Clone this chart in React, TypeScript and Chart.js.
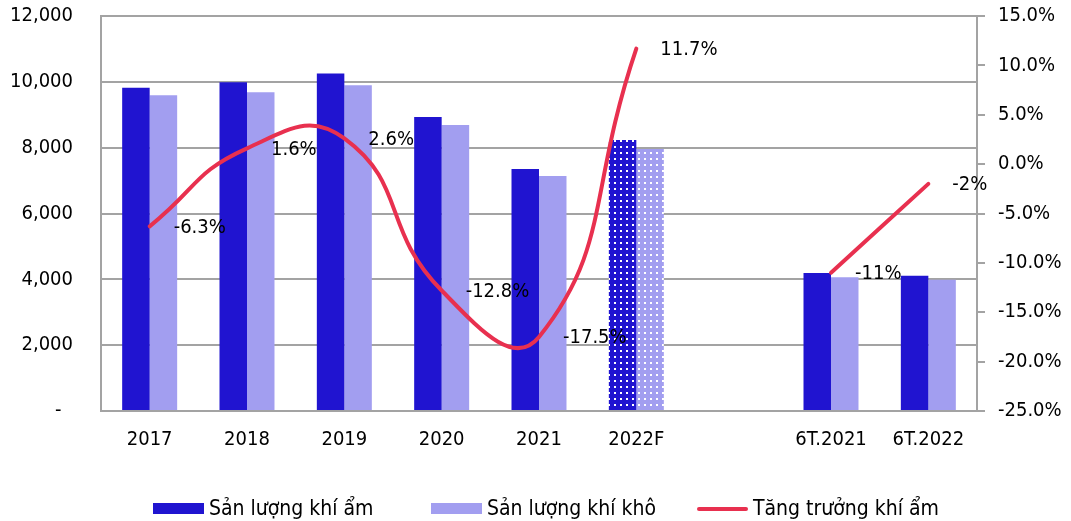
import React, { useEffect, useRef } from 'react';
import { Chart, registerables } from 'chart.js';

Chart.register(...registerables);

const categories = ['2017', '2018', '2019', '2020', '2021', '2022F', '', '6T.2021', '6T.2022'];
const wetGas = [9820, 9990, 10250, 8930, 7350, 8230, null, 4190, 4110];
const dryGas = [9590, 9680, 9900, 8690, 7140, 7960, null, 4060, 3990];
const wetGrowth = [-6.3, 1.6, 2.6, -12.8, -17.5, 11.7, null, -11, -2];
const growthLabels = ['-6.3%', '1.6%', '2.6%', '-12.8%', '-17.5%', '11.7%', '', '-11%', '-2%'];
const forecastFlags = [false, false, false, false, false, true, false, false, false];
const seriesNames = ['Sản lượng khí ẩm', 'Sản lượng khí khô', 'Tăng trưởng khí ẩm'];

const DARK = '#2014D0';
const LIGHT = '#A29EF0';
const RED = '#E8304F';
const GRID = '#a3a3a3';
const FONT = '"DejaVu Sans Condensed", "DejaVu Sans", sans-serif';

function makeDots(base: string): CanvasPattern | string {
  const c = document.createElement('canvas');
  c.width = 6;
  c.height = 6;
  const x = c.getContext('2d');
  if (!x) return base;
  x.fillStyle = base;
  x.fillRect(0, 0, 6, 6);
  x.fillStyle = '#ffffff';
  x.fillRect(2, 2, 2, 2);
  return x.createPattern(c, 'repeat') || base;
}

const labelPlugin = {
  id: 'growthLabels',
  afterDatasetsDraw(chart: any) {
    const meta = chart.getDatasetMeta(2);
    const ctx = chart.ctx;
    ctx.save();
    ctx.font = `20px ${FONT}`;
    ctx.fillStyle = '#000';
    ctx.textAlign = 'left';
    ctx.textBaseline = 'middle';
    meta.data.forEach((pt: any, i: number) => {
      if (wetGrowth[i] === null || !growthLabels[i]) return;
      ctx.fillText(growthLabels[i], pt.x + 24, pt.y + 1);
    });
    ctx.restore();
  },
};

const legendPlugin = {
  id: 'customLegend',
  afterDraw(chart: any) {
    const ctx = chart.ctx;
    const cy = 509;
    const starts = [153, 431, 697];
    ctx.save();
    ctx.font = `21px ${FONT}`;
    ctx.textBaseline = 'middle';
    ctx.textAlign = 'left';
    starts.forEach((sx, i) => {
      if (i < 2) {
        ctx.fillStyle = i === 0 ? DARK : LIGHT;
        ctx.fillRect(sx, cy - 6, 51, 11);
      } else {
        ctx.strokeStyle = RED;
        ctx.lineWidth = 4;
        ctx.lineCap = 'round';
        ctx.beginPath();
        ctx.moveTo(sx + 2, cy);
        ctx.lineTo(sx + 49, cy);
        ctx.stroke();
      }
      ctx.fillStyle = '#000';
      ctx.fillText(seriesNames[i], sx + 56, cy + 1);
    });
    ctx.restore();
  },
};

export default function App() {
  const ref = useRef<HTMLCanvasElement | null>(null);

  useEffect(() => {
    if (!ref.current) return;
    const darkDots = makeDots(DARK);
    const lightDots = makeDots(LIGHT);
    const darkColors = forecastFlags.map((f) => (f ? darkDots : DARK));
    const lightColors = forecastFlags.map((f) => (f ? lightDots : LIGHT));

    const chart = new Chart(ref.current, {
      type: 'bar',
      data: {
        labels: categories,
        datasets: [
          {
            type: 'bar',
            label: seriesNames[0],
            data: wetGas as any,
            backgroundColor: darkColors as any,
            yAxisID: 'y',
            barPercentage: 1,
            categoryPercentage: 0.565,
            order: 1,
          },
          {
            type: 'bar',
            label: seriesNames[1],
            data: dryGas as any,
            backgroundColor: lightColors as any,
            yAxisID: 'y',
            barPercentage: 1,
            categoryPercentage: 0.565,
            order: 2,
          },
          {
            type: 'line',
            label: seriesNames[2],
            data: wetGrowth as any,
            borderColor: RED,
            backgroundColor: RED,
            borderWidth: 4,
            borderCapStyle: 'round',
            borderJoinStyle: 'round',
            pointRadius: 0,
            pointHoverRadius: 0,
            tension: 0.5,
            spanGaps: false,
            yAxisID: 'y1',
            order: 0,
          } as any,
        ],
      },
      options: {
        responsive: true,
        maintainAspectRatio: false,
        animation: false,
        layout: { padding: { top: 16, left: 0, right: 0, bottom: 0 } },
        plugins: {
          legend: { display: false },
          tooltip: { enabled: false },
        },
        scales: {
          x: {
            grid: { display: false, drawTicks: false },
            border: { display: true, color: GRID, width: 2 },
            ticks: {
              color: '#000',
              font: { family: FONT, size: 20 },
              padding: 17,
              autoSkip: false,
              maxRotation: 0,
            },
            afterFit: (s: any) => {
              s.height = 110;
              s.paddingLeft = 0;
              s.paddingRight = 0;
            },
          },
          y: {
            position: 'left',
            min: 0,
            max: 12000,
            grid: { color: GRID, lineWidth: 2, drawTicks: false },
            border: { display: true, color: GRID, width: 2 },
            ticks: {
              stepSize: 2000,
              color: '#000',
              font: { family: FONT, size: 20 },
              padding: 28,
              callback: (v: any) => (Number(v) === 0 ? '-  ' : Number(v).toLocaleString('en-US')),
            },
            afterFit: (s: any) => {
              s.width = 101;
              s.paddingTop = 0;
              s.paddingBottom = 0;
            },
          },
          y1: {
            position: 'right',
            min: -25,
            max: 15,
            grid: { drawOnChartArea: false, drawTicks: true, tickLength: 8, color: GRID, lineWidth: 2 },
            border: { display: true, color: GRID, width: 2 },
            ticks: {
              stepSize: 5,
              color: '#000',
              font: { family: FONT, size: 20 },
              padding: 13,
              callback: (v: any) => Number(v).toFixed(1) + '%',
            },
            afterFit: (s: any) => {
              s.width = 94;
              s.paddingTop = 0;
              s.paddingBottom = 0;
            },
          },
        },
      },
      plugins: [labelPlugin, legendPlugin],
    });
    return () => chart.destroy();
  }, []);

  return (
    <div style={{ position: 'absolute', left: 0, top: 0, width: 1071, height: 521, background: '#fff' }}>
      <canvas ref={ref} />
    </div>
  );
}
